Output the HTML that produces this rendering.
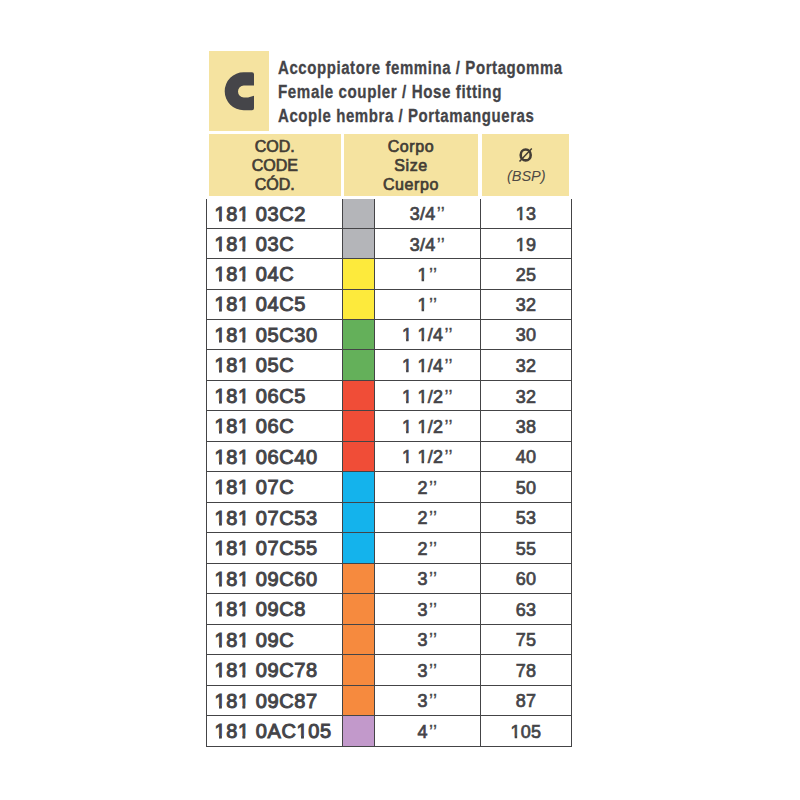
<!DOCTYPE html>
<html><head><meta charset="utf-8"><style>
html,body{margin:0;padding:0;background:#fff;}
body{width:800px;height:800px;position:relative;overflow:hidden;font-family:"Liberation Sans",sans-serif;color:#444448;}
.a{position:absolute;}
.t{position:absolute;white-space:nowrap;line-height:1;}
.title{font-weight:bold;font-size:19.20px;transform-origin:0 0;letter-spacing:0.75px;-webkit-text-stroke:0.3px #444448;}
.hd{font-size:16px;text-align:center;line-height:19px;color:#433d35;-webkit-text-stroke:0.7px #433d35;}
.code{font-size:20px;letter-spacing:0.6px;-webkit-text-stroke:1.0px #444448;}
.o1{display:inline-block;clip-path:polygon(-50% -50%,150% -50%,150% 14.7px,7.3px 14.7px,7.3px 150%,4.5px 150%,4.5px 14.7px,-50% 14.7px)}
.o2{display:inline-block;clip-path:polygon(-50% -50%,150% -50%,150% 12.95px,6.55px 12.95px,6.55px 150%,4.1px 150%,4.1px 12.95px,-50% 12.95px)}
.q{letter-spacing:0.4px;margin-left:1.2px;-webkit-text-stroke:0.3px #444448}
.c{text-align:center;font-size:18px;letter-spacing:0.25px;-webkit-text-stroke:0.7px #444448;}
</style></head><body>

<div class="a" style="left:209px;top:51px;width:60px;height:79.5px;background:#f5e3a0"></div>
<svg class="a" style="left:0;top:0" width="800" height="140" viewBox="0 0 800 140"><path fill="#454549" d="M243.7 72.3 L252 72.3 Q254 72.3 254 74.3 L254 85.4 L243.8 85.4 A5.8 6.05 0 0 0 243.8 97.5 L248 97.5 L254 95.8 L254 108.3 Q254 110.3 252 110.3 L243.7 110.3 A19 19 0 0 1 243.7 72.3 Z"/></svg>
<div class="t title" style="left:277.7px;top:57.60px;transform:scaleX(0.7804)">Accoppiatore femmina / Portagomma</div>
<div class="t title" style="left:277.7px;top:81.60px;transform:scaleX(0.7886)">Female coupler / Hose fitting</div>
<div class="t title" style="left:277.7px;top:105.60px;transform:scaleX(0.7805)">Acople hembra / Portamangueras</div>
<div class="a" style="left:209px;top:134px;width:131.5px;height:62px;background:#f5e3a0"></div>
<div class="a" style="left:344px;top:134px;width:134px;height:62px;background:#f5e3a0"></div>
<div class="a" style="left:482px;top:134px;width:86.5px;height:62px;background:#f5e3a0"></div>
<div class="t hd" style="left:209px;top:136.8px;width:131.5px">COD.<br>CODE<br>CÓD.</div>
<div class="t hd" style="left:344px;top:136.8px;width:134px;letter-spacing:0.6px">Corpo<br>Size<br>Cuerpo</div>
<svg class="a" style="left:510px;top:140px" width="30" height="30" viewBox="510 140 30 30"><ellipse cx="525.7" cy="154.9" rx="5.0" ry="5.45" fill="none" stroke="#433d35" stroke-width="2.6"/><path d="M519.5 161.4 L531.8 148.6" stroke="#433d35" stroke-width="1.5" fill="none"/></svg>
<div class="t hd" style="left:483px;top:167px;width:86.5px;font-weight:normal;-webkit-text-stroke:0;letter-spacing:0;font-style:italic;font-size:14.5px;color:#4e4a44">(BSP)</div>
<div class="a" style="left:343px;top:199px;width:31px;height:29px;background:#b4b5b9"></div>
<div class="a" style="left:343px;top:229px;width:31px;height:29px;background:#b4b5b9"></div>
<div class="a" style="left:343px;top:259px;width:31px;height:30px;background:#fdea3c"></div>
<div class="a" style="left:343px;top:290px;width:31px;height:29px;background:#fdea3c"></div>
<div class="a" style="left:343px;top:320px;width:31px;height:29px;background:#64b05a"></div>
<div class="a" style="left:343px;top:350px;width:31px;height:30px;background:#64b05a"></div>
<div class="a" style="left:343px;top:381px;width:31px;height:29px;background:#f04d37"></div>
<div class="a" style="left:343px;top:411px;width:31px;height:30px;background:#f04d37"></div>
<div class="a" style="left:343px;top:442px;width:31px;height:29px;background:#f04d37"></div>
<div class="a" style="left:343px;top:472px;width:31px;height:30px;background:#14b3ec"></div>
<div class="a" style="left:343px;top:503px;width:31px;height:29px;background:#14b3ec"></div>
<div class="a" style="left:343px;top:533px;width:31px;height:30px;background:#14b3ec"></div>
<div class="a" style="left:343px;top:564px;width:31px;height:29px;background:#f68a3e"></div>
<div class="a" style="left:343px;top:594px;width:31px;height:30px;background:#f68a3e"></div>
<div class="a" style="left:343px;top:625px;width:31px;height:29px;background:#f68a3e"></div>
<div class="a" style="left:343px;top:655px;width:31px;height:30px;background:#f68a3e"></div>
<div class="a" style="left:343px;top:686px;width:31px;height:29px;background:#f68a3e"></div>
<div class="a" style="left:343px;top:716px;width:31px;height:30px;background:#c299cb"></div>
<div class="a" style="left:206px;top:199px;width:1px;height:548px;background:#444446"></div>
<div class="a" style="left:342px;top:199px;width:1px;height:548px;background:#444446"></div>
<div class="a" style="left:374px;top:199px;width:1px;height:548px;background:#444446"></div>
<div class="a" style="left:480px;top:199px;width:1px;height:548px;background:#444446"></div>
<div class="a" style="left:571px;top:199px;width:1px;height:548px;background:#444446"></div>
<div class="a" style="left:206px;top:228px;width:366px;height:1px;background:#444446"></div>
<div class="a" style="left:206px;top:258px;width:366px;height:1px;background:#444446"></div>
<div class="a" style="left:206px;top:289px;width:366px;height:1px;background:#444446"></div>
<div class="a" style="left:206px;top:319px;width:366px;height:1px;background:#444446"></div>
<div class="a" style="left:206px;top:349px;width:366px;height:1px;background:#444446"></div>
<div class="a" style="left:206px;top:380px;width:366px;height:1px;background:#444446"></div>
<div class="a" style="left:206px;top:410px;width:366px;height:1px;background:#444446"></div>
<div class="a" style="left:206px;top:441px;width:366px;height:1px;background:#444446"></div>
<div class="a" style="left:206px;top:471px;width:366px;height:1px;background:#444446"></div>
<div class="a" style="left:206px;top:502px;width:366px;height:1px;background:#444446"></div>
<div class="a" style="left:206px;top:532px;width:366px;height:1px;background:#444446"></div>
<div class="a" style="left:206px;top:563px;width:366px;height:1px;background:#444446"></div>
<div class="a" style="left:206px;top:593px;width:366px;height:1px;background:#444446"></div>
<div class="a" style="left:206px;top:624px;width:366px;height:1px;background:#444446"></div>
<div class="a" style="left:206px;top:654px;width:366px;height:1px;background:#444446"></div>
<div class="a" style="left:206px;top:685px;width:366px;height:1px;background:#444446"></div>
<div class="a" style="left:206px;top:715px;width:366px;height:1px;background:#444446"></div>
<div class="a" style="left:206px;top:746px;width:366px;height:1px;background:#444446"></div>
<div class="t code" style="left:214.5px;top:204.00px"><span class="o1">1</span>8<span class="o1">1</span> 03C2</div>
<div class="t c" style="left:375px;width:105px;top:205.00px">3/4<span class="q">’’</span></div>
<div class="t c" style="left:481px;width:90px;top:205.00px"><span class="o2">1</span>3</div>
<div class="t code" style="left:214.5px;top:234.00px"><span class="o1">1</span>8<span class="o1">1</span> 03C</div>
<div class="t c" style="left:375px;width:105px;top:236.00px">3/4<span class="q">’’</span></div>
<div class="t c" style="left:481px;width:90px;top:236.00px"><span class="o2">1</span>9</div>
<div class="t code" style="left:214.5px;top:264.00px"><span class="o1">1</span>8<span class="o1">1</span> 04C</div>
<div class="t c" style="left:375px;width:105px;top:266.00px"><span class="o2">1</span><span class="q">’’</span></div>
<div class="t c" style="left:481px;width:90px;top:266.00px">25</div>
<div class="t code" style="left:214.5px;top:294.00px"><span class="o1">1</span>8<span class="o1">1</span> 04C5</div>
<div class="t c" style="left:375px;width:105px;top:296.00px"><span class="o2">1</span><span class="q">’’</span></div>
<div class="t c" style="left:481px;width:90px;top:296.00px">32</div>
<div class="t code" style="left:214.5px;top:325.00px"><span class="o1">1</span>8<span class="o1">1</span> 05C30</div>
<div class="t c" style="left:375px;width:105px;top:326.00px"><span class="o2">1</span> <span class="o2">1</span>/4<span class="q">’’</span></div>
<div class="t c" style="left:481px;width:90px;top:326.00px">30</div>
<div class="t code" style="left:214.5px;top:355.00px"><span class="o1">1</span>8<span class="o1">1</span> 05C</div>
<div class="t c" style="left:375px;width:105px;top:357.00px"><span class="o2">1</span> <span class="o2">1</span>/4<span class="q">’’</span></div>
<div class="t c" style="left:481px;width:90px;top:357.00px">32</div>
<div class="t code" style="left:214.5px;top:386.00px"><span class="o1">1</span>8<span class="o1">1</span> 06C5</div>
<div class="t c" style="left:375px;width:105px;top:388.00px"><span class="o2">1</span> <span class="o2">1</span>/2<span class="q">’’</span></div>
<div class="t c" style="left:481px;width:90px;top:388.00px">32</div>
<div class="t code" style="left:214.5px;top:416.00px"><span class="o1">1</span>8<span class="o1">1</span> 06C</div>
<div class="t c" style="left:375px;width:105px;top:418.00px"><span class="o2">1</span> <span class="o2">1</span>/2<span class="q">’’</span></div>
<div class="t c" style="left:481px;width:90px;top:418.00px">38</div>
<div class="t code" style="left:214.5px;top:447.00px"><span class="o1">1</span>8<span class="o1">1</span> 06C40</div>
<div class="t c" style="left:375px;width:105px;top:448.00px"><span class="o2">1</span> <span class="o2">1</span>/2<span class="q">’’</span></div>
<div class="t c" style="left:481px;width:90px;top:448.00px">40</div>
<div class="t code" style="left:214.5px;top:477.00px"><span class="o1">1</span>8<span class="o1">1</span> 07C</div>
<div class="t c" style="left:375px;width:105px;top:479.00px">2<span class="q">’’</span></div>
<div class="t c" style="left:481px;width:90px;top:479.00px">50</div>
<div class="t code" style="left:214.5px;top:508.00px"><span class="o1">1</span>8<span class="o1">1</span> 07C53</div>
<div class="t c" style="left:375px;width:105px;top:509.00px">2<span class="q">’’</span></div>
<div class="t c" style="left:481px;width:90px;top:509.00px">53</div>
<div class="t code" style="left:214.5px;top:538.00px"><span class="o1">1</span>8<span class="o1">1</span> 07C55</div>
<div class="t c" style="left:375px;width:105px;top:540.00px">2<span class="q">’’</span></div>
<div class="t c" style="left:481px;width:90px;top:540.00px">55</div>
<div class="t code" style="left:214.5px;top:569.00px"><span class="o1">1</span>8<span class="o1">1</span> 09C60</div>
<div class="t c" style="left:375px;width:105px;top:570.00px">3<span class="q">’’</span></div>
<div class="t c" style="left:481px;width:90px;top:570.00px">60</div>
<div class="t code" style="left:214.5px;top:599.00px"><span class="o1">1</span>8<span class="o1">1</span> 09C8</div>
<div class="t c" style="left:375px;width:105px;top:601.00px">3<span class="q">’’</span></div>
<div class="t c" style="left:481px;width:90px;top:601.00px">63</div>
<div class="t code" style="left:214.5px;top:630.00px"><span class="o1">1</span>8<span class="o1">1</span> 09C</div>
<div class="t c" style="left:375px;width:105px;top:631.00px">3<span class="q">’’</span></div>
<div class="t c" style="left:481px;width:90px;top:631.00px">75</div>
<div class="t code" style="left:214.5px;top:660.00px"><span class="o1">1</span>8<span class="o1">1</span> 09C78</div>
<div class="t c" style="left:375px;width:105px;top:662.00px">3<span class="q">’’</span></div>
<div class="t c" style="left:481px;width:90px;top:662.00px">78</div>
<div class="t code" style="left:214.5px;top:691.00px"><span class="o1">1</span>8<span class="o1">1</span> 09C87</div>
<div class="t c" style="left:375px;width:105px;top:692.00px">3<span class="q">’’</span></div>
<div class="t c" style="left:481px;width:90px;top:692.00px">87</div>
<div class="t code" style="left:214.5px;top:721.00px"><span class="o1">1</span>8<span class="o1">1</span> 0AC<span class="o1">1</span>05</div>
<div class="t c" style="left:375px;width:105px;top:723.00px">4<span class="q">’’</span></div>
<div class="t c" style="left:481px;width:90px;top:723.00px"><span class="o2">1</span>05</div>
</body></html>
